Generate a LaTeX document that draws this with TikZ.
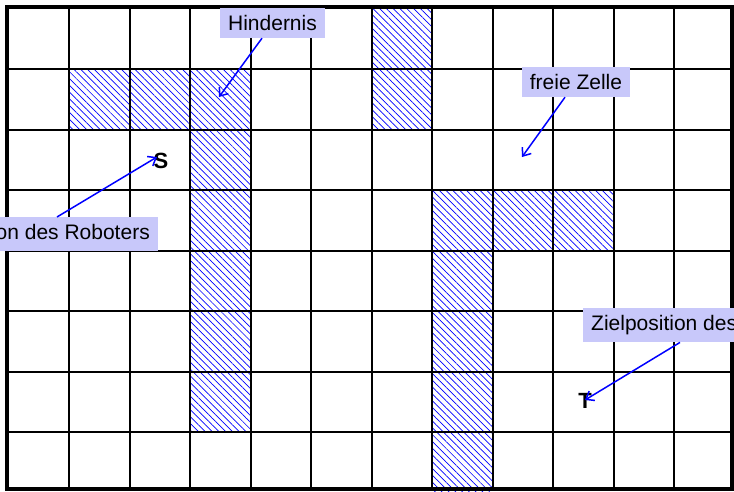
\documentclass[tikz,border=0pt]{standalone}
\usepackage{fontspec}
\setmainfont{Liberation Sans}
\usetikzlibrary{patterns.meta,arrows.meta,calc}
\definecolor{lav}{RGB}{200,200,250}
\begin{document}
\begin{tikzpicture}[x=1pt,y=-1pt,
  hatch/.style={pattern={Lines[angle=-45,distance=4.8pt,line width=0.7pt]},pattern color=blue},
  gridline/.style={line width=2pt,black},
  frameline/.style={line width=4pt,black},
  callout/.style={fill=lav,font=\fontsize{21}{24}\selectfont,inner xsep=8pt,inner ysep=7.5pt,text height=15pt,text depth=0pt},
  pointer/.style={blue,line width=1.5pt,-{Straight Barb[length=7pt,width=11pt]}},
  cellmark/.style={font=\fontsize{22}{24}\selectfont\bfseries,inner sep=0pt}
]
\useasboundingbox (0,0) rectangle (734,491);
\clip (0,0) rectangle (734,491);
\fill[white] (0,0) rectangle (734,491);
\foreach \c/\r in {6/0,6/1,1/1,2/1,3/1,3/2,3/3,3/4,3/5,3/6,7/3,8/3,9/3,7/4,7/5,7/6,7/7}
  \path[hatch] ({8.8+60.5*\c},{8.8+60.5*\r}) rectangle ++(60.5,60.5);
\foreach \i in {1,...,11}
  \draw[gridline] ({8.8+60.5*\i},7) -- ({8.8+60.5*\i},489);
\foreach \j in {1,...,7}
  \draw[gridline] (7,{8.8+60.5*\j}) -- (731.5,{8.8+60.5*\j});
\draw[frameline] (7,7) rectangle (731.5,489);
\node[cellmark] (S) at (161,161) {S};
\node[cellmark] (T) at (585,401) {T};
\node[callout] (hin) at (272.5,23) {Hindernis};
\node[callout] (frei) at (576,82) {freie Zelle};
\node[callout,text depth=4pt,anchor=north east] (rob) at (158,217) {Position des Roboters};
\node[callout,text depth=4pt,anchor=north west] (ziel) at (583,308) {Zielposition des Roboters};
\coordinate (hintip) at (219,97);
\coordinate (freitip) at (522,157);
\coordinate (stip) at (157,157);
\coordinate (ttip) at (585,400);
\draw[pointer] ([xshift=-10.5pt]hin.south) -- (hintip);
\draw[pointer] ([xshift=-11pt]frei.south) -- (freitip);
\draw[pointer] ([xshift=-101pt]rob.north east) -- (stip);
\draw[pointer] ([xshift=97pt]ziel.south west) -- (ttip);
\end{tikzpicture}
\end{document}
